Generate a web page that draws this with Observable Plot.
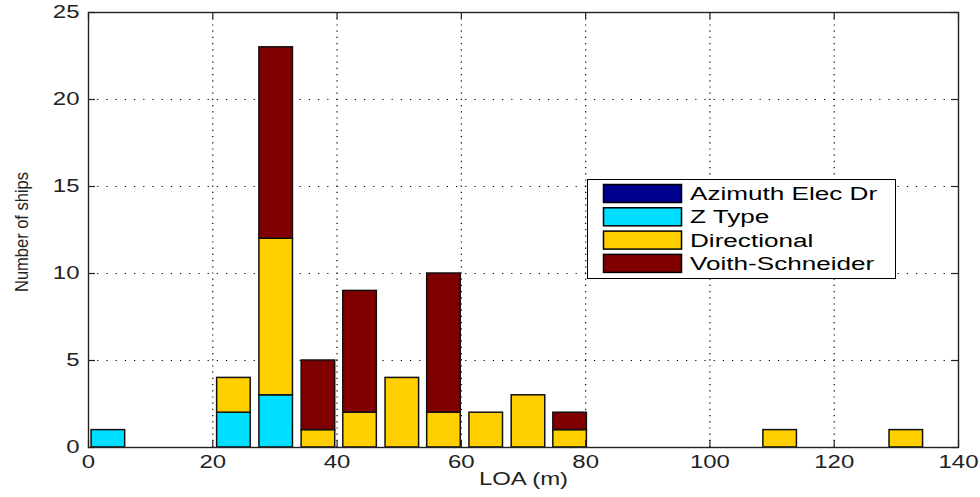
<!DOCTYPE html>
<html>
<head>
<meta charset="utf-8">
<script src="https://cdn.jsdelivr.net/npm/d3@7"></script>
<script src="https://cdn.jsdelivr.net/npm/@observablehq/plot@0.6"></script>
<style>
  body { margin: 0; background: #fff; }
  #wrap { position: relative; width: 980px; height: 497px; overflow: hidden; background: #fff; }
  #legend { position: absolute; left: 587px; top: 179px; }
  svg text { font-family: "Liberation Sans", Arial, sans-serif; }
</style>
</head>
<body>
<div id="wrap"><div id="chart"></div><svg id="legend" width="310" height="101"></svg></div>
<script>
// ---- data ----
const binCenters     = [3.2, 23.4, 30.2, 37.0, 43.7, 50.5, 57.2, 64.0, 70.8, 77.5, 111.3, 131.6];
const seriesNames    = ["Azimuth Elec Dr", "Z Type", "Directional", "Voith-Schneider"];
const azimuthElecDr  = [0, 0, 0,  0, 0, 0, 0, 0, 0, 0, 0, 0];
const zType          = [1, 2, 3,  0, 0, 0, 0, 0, 0, 0, 0, 0];
const directional    = [0, 2, 9,  1, 2, 4, 2, 2, 3, 1, 1, 1];
const voithSchneider = [0, 0, 11, 4, 7, 0, 8, 0, 0, 1, 0, 0];
const seriesColors   = ["#00008f", "#00dfff", "#ffcf00", "#800000"];
const barWidth       = 5.4;
const xTicks         = [0, 20, 40, 60, 80, 100, 120, 140];
const yTicks         = [0, 5, 10, 15, 20, 25];
const titleText      = "Survey of tugs by type of propulsion against length overall (LOA, survey)";
const xLabel         = "LOA (m)";
const yLabel         = "Number of ships";

const seriesValues = [azimuthElecDr, zType, directional, voithSchneider];
const rows = [];
seriesNames.forEach((name, s) => {
  binCenters.forEach((c, i) => {
    const v = seriesValues[s][i];
    if (v > 0) rows.push({center: c, type: name, count: v});
  });
});

const W = 980, H = 497, mL = 88, mR = 22, mT = 12, mB = 50;
const innerH = H - mT - mB, innerW = W - mL - mR;
const tickLen = 7;

const chart = Plot.plot({
  width: W, height: H,
  marginLeft: mL, marginRight: mR, marginTop: mT, marginBottom: mB,
  style: {fontFamily: "Liberation Sans, Arial, sans-serif", fontSize: "18px", color: "#222", background: "#fff"},
  x: {domain: [0, 140], ticks: xTicks, tickSize: 0, tickPadding: 8, tickFormat: d => String(d), label: null},
  y: {domain: [0, 25], ticks: yTicks, tickSize: 0, tickPadding: 9, tickFormat: d => String(d), label: null},
  color: {domain: seriesNames, range: seriesColors},
  marks: [
    Plot.ruleX(xTicks.slice(1, -1), {x: d => d, stroke: "#000", strokeWidth: 1.2, strokeDasharray: "1.2,5"}),
    Plot.ruleY(yTicks.slice(1, -1), {y: d => d, stroke: "#000", strokeWidth: 1.2, strokeDasharray: "1.2,8"}),
    Plot.rectY(rows, Plot.stackY({
      x: "center",
      x1: d => d.center - barWidth / 2,
      x2: d => d.center + barWidth / 2,
      y: "count", z: "type", order: seriesNames,
      fill: "type", stroke: "#111", strokeWidth: 1.5
    })),
    Plot.tickX(xTicks, {x: d => d, insetTop: innerH - tickLen, stroke: "#222", strokeWidth: 1.2}),
    Plot.tickX(xTicks, {x: d => d, insetBottom: innerH - tickLen, stroke: "#222", strokeWidth: 1.2}),
    Plot.tickY(yTicks, {y: d => d, insetRight: innerW - tickLen, stroke: "#222", strokeWidth: 1.2}),
    Plot.tickY(yTicks, {y: d => d, insetLeft: innerW - tickLen, stroke: "#222", strokeWidth: 1.2}),
    Plot.frame({stroke: "#222", strokeWidth: 1.4}),
    Plot.text([xLabel], {text: d => d, frameAnchor: "bottom", dy: 37, fill: "#222", fontSize: 18}),
    Plot.text([yLabel], {text: d => d, frameAnchor: "left", textAnchor: "middle", rotate: -90, dx: -67, dy: 2, fill: "#222", fontSize: 19}),
    Plot.text([titleText], {text: d => d, frameAnchor: "top", lineAnchor: "top", dy: -30, dx: 27, fill: "#222", fontSize: 18})
  ]
});
document.getElementById("chart").appendChild(chart);

// MATLAB export is stretched horizontally: widen text glyphs accordingly
d3.select(chart).selectAll("text").each(function() {
  const t = this.textContent;
  const len = this.getComputedTextLength();
  if (!len) return;
  const target = t === titleText ? 760 : t === yLabel ? 120 : len * 1.33;
  this.setAttribute("textLength", target);
  this.setAttribute("lengthAdjust", "spacingAndGlyphs");
});

// legend
const lg = d3.select("#legend");
lg.append("rect").attr("x", 0.5).attr("y", 0.5).attr("width", 308).attr("height", 99)
  .attr("fill", "#fff").attr("stroke", "#000").attr("stroke-width", 1);
seriesNames.forEach((name, i) => {
  const y0 = 5.5 + i * 23.3;
  lg.append("rect").attr("x", 16.5).attr("y", y0).attr("width", 78).attr("height", 18)
    .attr("fill", seriesColors[i]).attr("stroke", "#000").attr("stroke-width", 1.5);
  const tx = lg.append("text").attr("x", 103).attr("y", y0 + 9).attr("dy", "0.36em")
    .attr("font-size", 18).attr("fill", "#000").text(name);
  const len = tx.node().getComputedTextLength();
  tx.attr("textLength", len * 1.45).attr("lengthAdjust", "spacingAndGlyphs");
});
</script>
</body>
</html>
